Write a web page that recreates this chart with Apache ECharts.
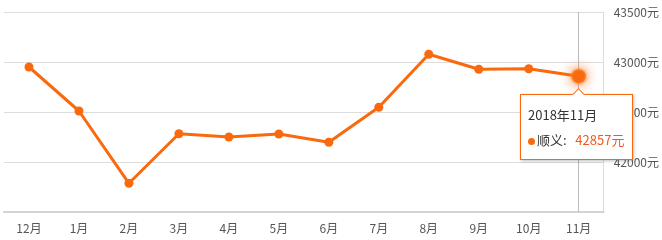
<!DOCTYPE html>
<html>
<head>
<meta charset="utf-8">
<script src="https://cdn.jsdelivr.net/npm/echarts@6/dist/echarts.min.js"></script>
<style>
html,body{margin:0;padding:0;background:#fff;}
#c{width:662px;height:240px;}
</style>
</head>
<body>
<div id="c"></div>
<script>
var categories = ['12月','1月','2月','3月','4月','5月','6月','7月','8月','9月','10月','11月'];
var fullLabels = ['2017年12月','2018年1月','2018年2月','2018年3月','2018年4月','2018年5月','2018年6月','2018年7月','2018年8月','2018年9月','2018年10月','2018年11月'];
var seriesName = '顺义';
var prices = [42950, 42510, 41787, 42283, 42250, 42280, 42197, 42547, 43077, 42927, 42933, 42857];
var yTicks = [41500, 42000, 42500, 43000, 43500];

var orange = '#f96a0e';
var chart = echarts.init(document.getElementById('c'));
var data = prices.map(function(v, i){
  if (i === prices.length - 1) {
    return {value: v, symbolSize: 13, itemStyle: {color: orange, borderColor: 'rgba(255,140,60,0.35)', borderWidth: 3, shadowBlur: 12, shadowColor: 'rgba(255,110,20,0.9)'}};
  }
  return v;
});
chart.setOption({
  animation: false,
  grid: {left: 4, right: 58, top: 12, bottom: 28},
  tooltip: {
    trigger: 'axis',
    backgroundColor: '#fff',
    borderColor: orange,
    borderWidth: 1,
    padding: [7, 8, 7, 7],
    extraCssText: 'box-shadow:1px 1px 3px rgba(0,0,0,0.25);border-radius:0;overflow:visible;',
    axisPointer: {type: 'line', z: 1, lineStyle: {color: '#bbb', width: 1, type: 'solid'}},
    position: function(){ return [520, 94]; },
    formatter: function(params){
      var p = params[0];
      return '<div style="position:relative;font-family:\'Noto Sans CJK SC\',sans-serif;font-size:13px;line-height:25px;color:#333;">' +
        '<div style="position:absolute;left:46px;top:-12px;width:8px;height:8px;background:#fff;border-left:1px solid ' + orange + ';border-top:1px solid ' + orange + ';transform:rotate(45deg);"></div>' +
        fullLabels[p.dataIndex] + '<br/>' +
        '<span style="display:inline-block;width:7px;height:7px;border-radius:50%;background:' + orange + ';margin-right:2px;vertical-align:middle;"></span>' +
        seriesName + ':&nbsp;&nbsp;&nbsp;<span style="color:#f5581e;">' + p.value + '元</span></div>';
    }
  },
  xAxis: {
    type: 'category',
    data: categories,
    boundaryGap: true,
    axisLine: {lineStyle: {color: '#d4d4d4', width: 2}},
    axisTick: {alignWithLabel: true, length: 4, lineStyle: {color: '#ddd'}},
    axisLabel: {color: '#555', fontSize: 12, margin: 10, fontFamily: 'Noto Sans CJK SC'}
  },
  yAxis: {
    type: 'value',
    position: 'right',
    min: yTicks[0],
    max: yTicks[yTicks.length - 1],
    interval: 500,
    axisLine: {show: true, lineStyle: {color: '#ddd'}},
    axisTick: {show: false},
    splitLine: {lineStyle: {color: '#ddd'}},
    axisLabel: {
      showMinLabel: false,
      color: '#555', fontSize: 12, margin: 10, fontFamily: 'Noto Sans CJK SC',
      formatter: function(v){ return v + '元'; }
    }
  },
  series: [{
    name: seriesName,
    type: 'line',
    z: 5,
    data: data,
    symbol: 'circle',
    symbolSize: 9,
    lineStyle: {color: orange, width: 3},
    itemStyle: {color: orange},
    emphasis: {disabled: true}
  }]
});
chart.dispatchAction({type: 'showTip', seriesIndex: 0, dataIndex: 11});
</script>
</body>
</html>
